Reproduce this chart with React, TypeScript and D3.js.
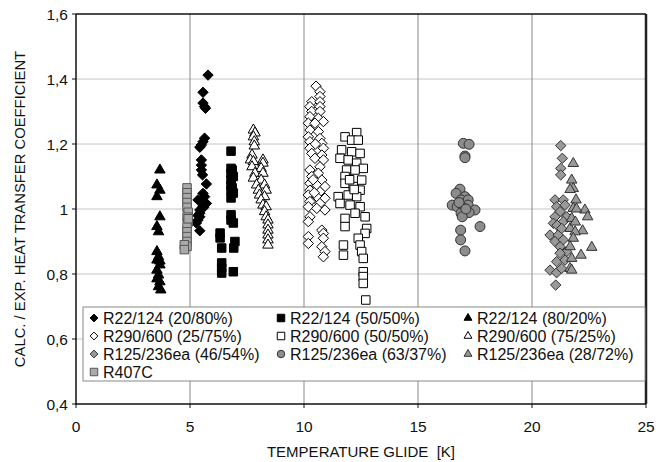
import React from "react";
import * as d3 from "d3";

type Pt = [number, number];

const xTicks = [0, 5, 10, 15, 20, 25];
const yTicks = [0.4, 0.6, 0.8, 1.0, 1.2, 1.4, 1.6];
const yTickLabels = ["0,4", "0,6", "0,8", "1", "1,2", "1,4", "1,6"];

const r22_2080: Pt[] = [[5.79,1.412],[5.57,1.359],[5.57,1.326],[5.64,1.315],[5.68,1.31],[5.64,1.218],[5.57,1.207],[5.5,1.197],[5.43,1.19],[5.5,1.151],[5.5,1.135],[5.5,1.12],[5.55,1.105],[5.72,1.077],[5.57,1.048],[5.64,1.038],[5.35,1.028],[5.72,1.017],[5.57,1.009],[5.43,0.997],[5.43,0.987],[5.43,0.976],[5.35,0.966],[5.28,0.957],[5.43,0.933],[5.6,1.005],[5.35,0.98]];
const r22_5050: Pt[] = [[6.8,1.178],[6.8,1.125],[6.8,1.11],[6.9,1.1],[6.8,1.089],[6.8,1.074],[6.8,1.058],[6.9,1.049],[6.8,1.034],[6.8,0.982],[6.8,0.966],[6.9,0.957],[6.32,0.926],[6.32,0.911],[6.97,0.9],[6.39,0.88],[6.92,0.88],[6.39,0.834],[6.39,0.818],[6.39,0.803],[6.9,0.807],[6.85,1.12],[6.85,1.065]];
const r22_8020: Pt[] = [[3.68,1.12],[3.55,1.074],[3.68,1.058],[3.55,1.038],[3.68,0.976],[3.55,0.946],[3.62,0.93],[3.55,0.869],[3.62,0.853],[3.55,0.843],[3.68,0.828],[3.55,0.812],[3.62,0.797],[3.68,0.776],[3.62,0.761],[3.72,0.751],[3.55,0.785],[3.68,0.84]];
const r290_2575: Pt[] = [[10.53,1.378],[10.7,1.361],[10.7,1.346],[10.34,1.33],[10.7,1.33],[10.26,1.315],[10.7,1.315],[10.34,1.3],[10.7,1.3],[10.26,1.284],[10.63,1.279],[10.85,1.269],[10.19,1.264],[10.48,1.264],[10.26,1.243],[10.63,1.238],[10.19,1.222],[10.7,1.217],[10.26,1.207],[10.78,1.202],[10.26,1.187],[10.85,1.187],[10.34,1.171],[10.78,1.166],[10.48,1.156],[10.85,1.151],[10.7,1.13],[10.26,1.12],[10.63,1.11],[10.34,1.1],[10.78,1.089],[10.26,1.079],[10.56,1.074],[10.92,1.069],[10.26,1.058],[10.7,1.053],[10.19,1.043],[10.56,1.038],[10.92,1.033],[10.26,1.023],[10.7,1.017],[10.19,1.007],[10.56,1.002],[10.92,0.997],[10.26,0.976],[10.19,0.961],[10.19,0.915],[10.19,0.894],[10.78,0.935],[10.85,0.925],[10.85,0.91],[10.78,0.884],[10.92,0.869],[10.85,0.853],[10.4,1.09],[10.5,1.2],[10.45,1.05]];
const r290_5050: Pt[] = [[12.31,1.235],[11.8,1.222],[12.09,1.212],[12.38,1.212],[11.65,1.182],[12.09,1.176],[12.46,1.171],[11.58,1.156],[11.94,1.151],[12.31,1.141],[12.6,1.125],[11.87,1.12],[12.24,1.12],[11.8,1.1],[12.53,1.089],[11.8,1.079],[12.16,1.069],[12.46,1.058],[11.5,1.038],[11.94,1.043],[12.31,1.038],[11.58,1.017],[12.02,1.012],[12.46,1.007],[12.24,0.987],[12.68,0.976],[11.8,0.971],[11.8,0.946],[12.75,0.94],[12.68,0.925],[12.38,0.91],[11.73,0.889],[12.46,0.889],[12.53,0.869],[11.73,0.858],[12.6,0.848],[12.6,0.807],[12.6,0.792],[12.6,0.771],[12.71,0.72],[12.0,1.09],[12.2,1.06]];
const r290_7525: Pt[] = [[7.78,1.243],[7.85,1.234],[7.78,1.222],[7.82,1.207],[7.82,1.194],[7.72,1.166],[7.65,1.151],[7.78,1.146],[8.2,1.151],[8.2,1.141],[7.72,1.13],[8.12,1.125],[7.85,1.11],[8.2,1.11],[7.78,1.095],[8.12,1.089],[7.92,1.074],[8.27,1.074],[8.0,1.058],[8.34,1.058],[8.05,1.043],[8.27,1.038],[8.12,1.028],[8.2,1.012],[8.34,1.007],[8.27,0.992],[8.34,0.976],[8.42,0.966],[8.42,0.951],[8.42,0.935],[8.42,0.92],[8.42,0.905],[8.42,0.889]];
const r125_4654: Pt[] = [[21.26,1.195],[21.33,1.156],[21.26,1.125],[21.26,1.105],[21.01,1.028],[21.37,1.028],[21.08,1.007],[21.45,1.012],[21.23,0.992],[21.01,0.976],[21.52,0.976],[20.94,0.956],[21.37,0.961],[20.79,0.92],[21.15,0.92],[21.01,0.9],[21.37,0.905],[21.23,0.884],[21.52,0.869],[21.23,0.864],[21.08,0.838],[21.45,0.843],[20.79,0.812],[21.08,0.804],[21.3,0.817],[21.04,0.766],[21.1,0.95],[21.3,0.94]];
const r125_6337: Pt[] = [[16.99,1.202],[17.24,1.199],[17.06,1.163],[17.06,1.158],[16.84,1.061],[16.67,1.048],[17.06,1.038],[16.89,1.028],[17.2,1.028],[16.5,1.012],[16.72,1.007],[17.2,1.012],[16.99,1.003],[17.5,0.997],[16.89,0.987],[17.24,0.989],[16.94,0.976],[17.72,0.946],[16.87,0.935],[16.87,0.905],[17.06,0.871],[16.8,1.02],[17.1,1.0]];
const r125_2872: Pt[] = [[21.81,1.14],[21.74,1.089],[21.81,1.063],[21.67,1.06],[21.93,1.028],[22.32,0.997],[21.81,1.002],[22.44,0.976],[21.74,0.971],[21.67,0.94],[22.22,0.933],[21.89,0.93],[21.81,0.91],[21.67,0.884],[22.62,0.882],[22.15,0.858],[21.74,0.848],[21.67,0.817],[21.74,0.812],[21.9,0.96],[21.95,1.0]];
const r407c: Pt[] = [[4.87,1.065],[4.87,1.05],[4.87,1.035],[4.87,1.02],[4.87,1.005],[4.92,0.99],[4.87,0.975],[4.92,0.96],[4.87,0.945],[4.87,0.93],[4.87,0.915],[4.87,0.9],[4.87,0.885],[4.75,0.89],[4.75,0.875],[4.92,0.97]];

const seriesNames = [
  "R22/124 (20/80%)", "R22/124 (50/50%)", "R22/124 (80/20%)",
  "R290/600 (25/75%)", "R290/600 (50/50%)", "R290/600 (75/25%)",
  "R125/236ea (46/54%)", "R125/236ea (63/37%)", "R125/236ea (28/72%)",
  "R407C",
];
const seriesData: Pt[][] = [r22_2080, r22_5050, r22_8020, r290_2575, r290_5050, r290_7525, r125_4654, r125_6337, r125_2872, r407c];

type Shape = "diamond" | "square" | "triangle" | "circle";
const styles: { shape: Shape; fill: string; stroke: string }[] = [
  { shape: "diamond", fill: "#000", stroke: "#000" },
  { shape: "square", fill: "#000", stroke: "#000" },
  { shape: "triangle", fill: "#000", stroke: "#000" },
  { shape: "diamond", fill: "#fff", stroke: "#000" },
  { shape: "square", fill: "#fff", stroke: "#000" },
  { shape: "triangle", fill: "#fff", stroke: "#000" },
  { shape: "diamond", fill: "#999", stroke: "#333" },
  { shape: "circle", fill: "#8c8c8c", stroke: "#333" },
  { shape: "triangle", fill: "#999", stroke: "#333" },
  { shape: "square", fill: "#aaa", stroke: "#555" },
];

const W = 663, H = 462;
const L = 76, R = 646, T = 14, B = 404;
const FONT = "'Liberation Sans', Arial, sans-serif";

function symPath(shape: Shape, s: number): string {
  if (shape === "diamond") {
    const h = s * 0.52;
    return `M0,${-h}L${h},0L0,${h}L${-h},0Z`;
  }
  if (shape === "square") return d3.symbol(d3.symbolSquare, s * s)()!;
  if (shape === "circle") return d3.symbol(d3.symbolCircle, Math.PI * (s / 2) * (s / 2))()!;
  return d3.symbol(d3.symbolTriangle, (Math.sqrt(3) / 4) * s * s * 1.1)()!;
}

export default function App() {
  const x = d3.scaleLinear().domain([0, 25]).range([L, R]);
  const y = d3.scaleLinear().domain([0.4, 1.6]).range([B, T]);

  const legX = [94, 281, 468];
  const legY0 = 318, legDy = 18;

  return (
    <svg width={W} height={H} style={{ position: "absolute", left: 0, top: 0 }} fontFamily={FONT}>
      <rect x={0} y={0} width={W} height={H} fill="#fff" />
      {yTicks.slice(1, -1).map((t) => (
        <line key={"h" + t} x1={L} x2={R} y1={y(t)} y2={y(t)} stroke="#c4c4c4" strokeWidth={1} />
      ))}
      {xTicks.slice(1, -1).map((t) => (
        <line key={"v" + t} x1={x(t)} x2={x(t)} y1={T} y2={B} stroke="#8a8a8a" strokeWidth={1} />
      ))}
      <line x1={L} x2={R} y1={T} y2={T} stroke="#111" strokeWidth={1.5} />
      <line x1={R} x2={R} y1={T} y2={B} stroke="#222" strokeWidth={2.5} />
      <line x1={L} x2={L} y1={T} y2={B + 1} stroke="#111" strokeWidth={1.5} />
      <line x1={L} x2={R} y1={B} y2={B} stroke="#111" strokeWidth={1.5} />
      {yTicks.map((t) => (
        <line key={"yt" + t} x1={L - 4} x2={L} y1={y(t)} y2={y(t)} stroke="#111" strokeWidth={1} />
      ))}
      {xTicks.map((t) => (
        <line key={"xt" + t} x1={x(t)} x2={x(t)} y1={B} y2={B + 4} stroke="#111" strokeWidth={1} />
      ))}
      {yTicks.map((t, i) => (
        <text key={"yl" + t} x={68} y={y(t)} dy="0.36em" textAnchor="end" fontSize={15.5} fill="#111">
          {yTickLabels[i]}
        </text>
      ))}
      {xTicks.map((t) => (
        <text key={"xl" + t} x={x(t)} y={432} textAnchor="middle" fontSize={15.5} fill="#111">
          {t}
        </text>
      ))}
      <text x={361} y={457} textAnchor="middle" fontSize={15} fill="#111">
        {"TEMPERATURE GLIDE \u00a0[K]"}
      </text>
      <text transform={`translate(25,${(T + B) / 2}) rotate(-90)`} textAnchor="middle" fontSize={14.8} fill="#111">
        CALC. / EXP. HEAT TRANSFER COEFFICIENT
      </text>

      {seriesData.map((data, si) => (
        <g key={"s" + si}>
          {data.map((p, i) => (
            <path
              key={i}
              d={symPath(styles[si].shape, styles[si].shape === "square" ? 8.5 : 10)}
              transform={`translate(${x(p[0])},${y(p[1])})`}
              fill={styles[si].fill}
              stroke={styles[si].stroke}
              strokeWidth={1}
            />
          ))}
        </g>
      ))}

      <rect x={83} y={307} width={562} height={74} fill="#fff" stroke="#888" strokeWidth={1} />
      {seriesNames.map((name, i) => {
        const col = i % 3, row = Math.floor(i / 3);
        const cx = legX[col], cy = legY0 + row * legDy;
        const st = styles[i];
        return (
          <g key={"lg" + i}>
            <path d={symPath(st.shape, 7.5)} transform={`translate(${cx},${cy})`} fill={st.fill} stroke={st.stroke} strokeWidth={1} />
            <text x={cx + 9} y={cy} dy="0.36em" fontSize={16} fill="#111">
              {name}
            </text>
          </g>
        );
      })}
    </svg>
  );
}
